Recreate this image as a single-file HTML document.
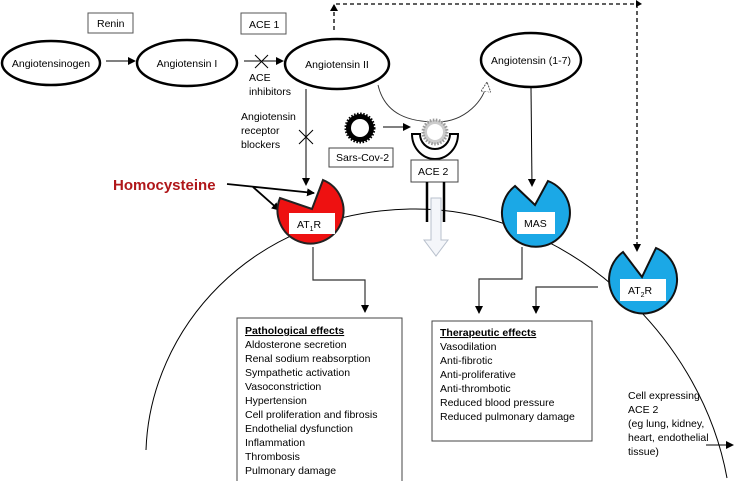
<!DOCTYPE html>
<html><head><meta charset="utf-8"><style>
html,body{margin:0;padding:0;background:#fff;}
svg{display:block;font-family:"Liberation Sans",sans-serif;}
text{font-size:10.5px;fill:#000;}
</style></head><body>
<svg width="739" height="481" viewBox="0 0 739 481" xmlns="http://www.w3.org/2000/svg">
<defs>
<marker id="ah" markerWidth="8" markerHeight="8" refX="7" refY="4" orient="auto" markerUnits="userSpaceOnUse"><path d="M0,0 L8,4 L0,8 Z" fill="#000"/></marker>
<marker id="ao" markerWidth="12" markerHeight="10" refX="10" refY="5" orient="auto" markerUnits="userSpaceOnUse"><path d="M0,0 L10,5 L0,10 Z" fill="#fff" stroke="#555" stroke-dasharray="2,1"/></marker>
</defs>
<path d="M146,450 C150,330 250,212 410,209 C560,206 700,330 727,478" fill="none" stroke="#000" stroke-width="1"/>

<rect x="88" y="13" width="45" height="20" fill="#fff" stroke="#555"/><text x="97" y="27">Renin</text>
<rect x="241" y="13" width="45" height="21" fill="#fff" stroke="#555"/><text x="249" y="28">ACE 1</text>

<ellipse cx="51" cy="63" rx="49" ry="22" fill="#fff" stroke="#000" stroke-width="2.5"/><text x="51" y="67" text-anchor="middle">Angiotensinogen</text>
<ellipse cx="187" cy="63" rx="50" ry="23" fill="#fff" stroke="#000" stroke-width="2.5"/><text x="187" y="67" text-anchor="middle">Angiotensin I</text>
<ellipse cx="337" cy="64" rx="52" ry="25" fill="#fff" stroke="#000" stroke-width="2.5"/><text x="337" y="68" text-anchor="middle">Angiotensin II</text>
<ellipse cx="531" cy="60" rx="50" ry="27" fill="#fff" stroke="#000" stroke-width="2.5"/><text x="531" y="64" text-anchor="middle">Angiotensin (1-7)</text>

<line x1="106" y1="61" x2="135" y2="61" stroke="#000" marker-end="url(#ah)"/>
<line x1="244" y1="61" x2="283" y2="61" stroke="#000" marker-end="url(#ah)"/>
<path d="M255,55 L268,68 M255,68 L268,55" stroke="#000"/>
<text x="249" y="81">ACE</text><text x="249" y="95">inhibitors</text>

<path d="M334,30 L334,4 L637,4 L637,250" fill="none" stroke="#000" stroke-width="1.3" stroke-dasharray="4,3"/>
<path d="M330,11 L334,4 L338,11 Z" fill="#000"/>
<path d="M633,244 L637,252 L641,244 Z" fill="#000"/>
<path d="M636,0 L642,4 L636,7" fill="#000"/>

<path d="M378,85 C385,115 410,122 437,122 C465,122 485,100 487,82" fill="none" stroke="#333" stroke-width="0.9" marker-end="url(#ao)"/>

<text x="241" y="120">Angiotensin</text><text x="241" y="134">receptor</text><text x="241" y="148">blockers</text>
<line x1="306" y1="89" x2="306" y2="185" stroke="#000" marker-end="url(#ah)"/>
<path d="M299,130 L313,144 M299,144 L313,130" stroke="#000"/>

<text x="113" y="190" style="font-size:15px;font-weight:bold;fill:#b0171a">Homocysteine</text>
<line x1="227" y1="184" x2="314" y2="193" stroke="#000" stroke-width="1.8" marker-end="url(#ah)"/>
<line x1="253" y1="187" x2="279" y2="210" stroke="#000" stroke-width="1.8" marker-end="url(#ah)"/>

<path d="M323,180 L312,209 L280,198 A33,33 0 1 0 323,180 Z" fill="#ee1111" stroke="#222" stroke-width="2"/>
<rect x="289" y="213" width="46" height="21" fill="#fff"/>
<text x="297" y="228">AT<tspan style="font-size:7px" dy="3">1</tspan><tspan dy="-3">R</tspan></text>

<circle cx="360" cy="128" r="14" fill="#000" stroke="#000" stroke-width="3" stroke-dasharray="1.5,1.5"/>
<circle cx="360" cy="128" r="9" fill="#fff"/>
<rect x="329" y="148" width="64" height="19" fill="#fff" stroke="#444"/><text x="336" y="161">Sars-Cov-2</text>
<line x1="383" y1="127" x2="410" y2="127" stroke="#000" marker-end="url(#ah)"/>

<path d="M412,134 L420,134 A15,15 0 0 0 450,134 L458,134 A23,25 0 0 1 412,134 Z" fill="#fff" stroke="#000" stroke-width="2"/>
<circle cx="435" cy="132" r="12" fill="#ccc" stroke="#999" stroke-width="3" stroke-dasharray="1.5,1.5"/>
<circle cx="435" cy="132" r="8" fill="#fff"/>
<rect x="411" y="160" width="47" height="22" fill="#fff" stroke="#444"/><text x="418" y="175">ACE 2</text>
<line x1="427" y1="182" x2="427" y2="222" stroke="#000" stroke-width="2.5"/>
<line x1="444" y1="182" x2="444" y2="222" stroke="#000" stroke-width="2.5"/>
<path d="M431,198 L441,198 L441,240 L448,240 L436,256 L424,240 L431,240 Z" fill="#f4f6fa" stroke="#b8c0cc"/>

<line x1="531" y1="88" x2="532" y2="186" stroke="#000" marker-end="url(#ah)"/>
<path d="M548,181 L535,205 L515,186 A34,34 0 1 0 548,181 Z" fill="#1ba8e6" stroke="#111" stroke-width="2"/>
<rect x="517" y="212" width="38" height="22" fill="#fff"/><text x="524" y="227">MAS</text>

<path d="M656,248 L642,277 L623,252 A34,34 0 1 0 656,248 Z" fill="#1ba8e6" stroke="#111" stroke-width="2"/>
<rect x="620" y="279" width="46" height="22" fill="#fff"/>
<text x="628" y="294">AT<tspan style="font-size:7px" dy="3">2</tspan><tspan dy="-3">R</tspan></text>

<path d="M313,247 L313,280 L365,280 L365,312" fill="none" stroke="#333" stroke-width="1.2" marker-end="url(#ah)"/>
<path d="M522,247 L522,279 L479,279 L479,313" fill="none" stroke="#333" stroke-width="1.2" marker-end="url(#ah)"/>
<path d="M598,287 L536,287 L536,313" fill="none" stroke="#333" stroke-width="1.2" marker-end="url(#ah)"/>

<rect x="237" y="318" width="165" height="170" fill="#fff" stroke="#444"/>
<text x="245" y="334" style="font-weight:bold;text-decoration:underline">Pathological effects</text>
<text x="245" y="348">Aldosterone secretion</text>
<text x="245" y="362">Renal sodium reabsorption</text>
<text x="245" y="376">Sympathetic activation</text>
<text x="245" y="390">Vasoconstriction</text>
<text x="245" y="404">Hypertension</text>
<text x="245" y="418">Cell proliferation and fibrosis</text>
<text x="245" y="432">Endothelial dysfunction</text>
<text x="245" y="446">Inflammation</text>
<text x="245" y="460">Thrombosis</text>
<text x="245" y="474">Pulmonary damage</text>

<rect x="432" y="321" width="160" height="120" fill="#fff" stroke="#444"/>
<text x="440" y="336" style="font-weight:bold;text-decoration:underline">Therapeutic effects</text>
<text x="440" y="350">Vasodilation</text>
<text x="440" y="364">Anti-fibrotic</text>
<text x="440" y="378">Anti-proliferative</text>
<text x="440" y="392">Anti-thrombotic</text>
<text x="440" y="406">Reduced blood pressure</text>
<text x="440" y="420">Reduced pulmonary damage</text>

<text x="628" y="399">Cell expressing</text>
<text x="628" y="413">ACE 2</text>
<text x="628" y="427">(eg lung, kidney,</text>
<text x="628" y="441">heart, endothelial</text>
<text x="628" y="455">tissue)</text>
<line x1="706" y1="445" x2="733" y2="445" stroke="#000" marker-end="url(#ah)"/>
</svg>
</body></html>
